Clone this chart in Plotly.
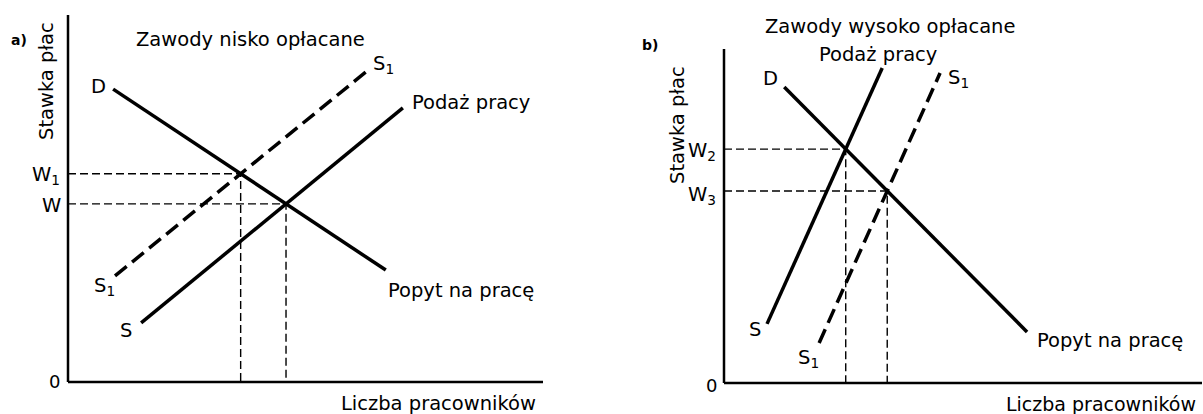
import plotly.graph_objects as go

W_PX, H_PX = 1203, 414

# ---------------- data (axis units 0..100) ----------------
# Panel a) Zawody nisko opłacane
a_D_x = [9.5, 66.9]
a_D_y = [79.8, 30.5]
a_S_x = [15.4, 70.5]
a_S_y = [16.1, 74.7]
a_S1_x = [9.9, 63.2]
a_S1_y = [28.9, 85.0]

# Panel b) Zawody wysoko opłacane
b_D_x = [12.6, 63.4]
b_D_y = [88.6, 15.3]
b_S_x = [9.0, 33.1]
b_S_y = [17.7, 94.3]
b_S1_x = [19.9, 45.2]
b_S1_y = [12.0, 92.8]


def intersect(x1, y1, x2, y2):
    # intersection of the supporting lines of two segments
    m1 = (y1[1] - y1[0]) / (x1[1] - x1[0])
    m2 = (y2[1] - y2[0]) / (x2[1] - x2[0])
    c1 = y1[0] - m1 * x1[0]
    c2 = y2[0] - m2 * x2[0]
    x = (c2 - c1) / (m1 - m2)
    return x, m1 * x + c1


a_E = intersect(a_D_x, a_D_y, a_S_x, a_S_y)
a_E1 = intersect(a_D_x, a_D_y, a_S1_x, a_S1_y)
b_E2 = intersect(b_D_x, b_D_y, b_S_x, b_S_y)
b_E3 = intersect(b_D_x, b_D_y, b_S1_x, b_S1_y)

# ---------------- figure ----------------
fig = go.Figure()

SOLID = dict(color="black", width=3.5)
HEAVY_DASH = dict(color="black", width=3.5, dash="15px,7px")
GUIDE = dict(color="black", width=1.4, dash="8px,4px")


def add_line(x, y, line, xa, ya):
    fig.add_trace(go.Scatter(x=x, y=y, mode="lines", line=line,
                             xaxis=xa, yaxis=ya, hoverinfo="skip",
                             showlegend=False))


def add_guides(pt, xa, ya):
    add_line([0, pt[0], pt[0]], [pt[1], pt[1], 0], GUIDE, xa, ya)


# panel a
add_guides(a_E, "x", "y")
add_guides(a_E1, "x", "y")
add_line(a_D_x, a_D_y, SOLID, "x", "y")
add_line(a_S_x, a_S_y, SOLID, "x", "y")
add_line(a_S1_x, a_S1_y, HEAVY_DASH, "x", "y")

# panel b
add_guides(b_E2, "x2", "y2")
add_guides(b_E3, "x2", "y2")
add_line(b_D_x, b_D_y, SOLID, "x2", "y2")
add_line(b_S_x, b_S_y, SOLID, "x2", "y2")
add_line(b_S1_x, b_S1_y, HEAVY_DASH, "x2", "y2")


def px(xp):
    return xp / W_PX


def py(yp):
    return 1 - yp / H_PX


axis_common = dict(range=[0, 100], showgrid=False, zeroline=False,
                   showticklabels=False, ticks="", showline=False,
                   fixedrange=True)

FONT = "DejaVu Sans, Verdana, sans-serif"
fig.update_layout(
    width=W_PX, height=H_PX,
    margin=dict(l=0, r=0, t=0, b=0),
    paper_bgcolor="white", plot_bgcolor="white",
    font=dict(family=FONT, color="black", size=19.5),
    xaxis=dict(domain=[px(68), px(543)], anchor="y", **axis_common),
    yaxis=dict(domain=[py(382), py(15)], anchor="x", **axis_common),
    xaxis2=dict(domain=[px(724), px(1202)], anchor="y2", **axis_common),
    yaxis2=dict(domain=[py(383), py(49)], anchor="x2", **axis_common),
)

# axis lines as L shapes
for xa, ya in [("x", "y"), ("x2", "y2")]:
    xd = "%s domain" % xa
    yd = "%s domain" % ya
    fig.add_shape(type="line", xref=xd, yref=yd, x0=0, y0=0, x1=0, y1=1,
                  line=dict(color="black", width=2.5))
    fig.add_shape(type="line", xref=xd, yref=yd, x0=0, y0=0, x1=1, y1=0,
                  line=dict(color="black", width=2.5))


def txt(text, x, y, size=19.5, xanchor="center", yanchor="middle", angle=0):
    fig.add_annotation(text=text, x=px(x), y=py(y), xref="paper", yref="paper",
                       showarrow=False, xanchor=xanchor, yanchor=yanchor,
                       textangle=angle, font=dict(size=size, family=FONT,
                                                  color="black"))


S1 = "S<sub>1</sub>"

# panel a texts
txt("<b>a)</b>", 19, 40, size=14)
txt("Zawody nisko opłacane", 250, 40)
txt("Stawka płac", 47, 81, angle=-90)
txt("D", 98, 86)
txt(S1, 383, 64)
txt("Podaż pracy", 471, 102)
txt("W<sub>1</sub>", 62, 175, xanchor="right")
txt("W", 63, 205, xanchor="right")
txt("0", 54, 381, size=18)
txt(S1, 104, 286)
txt("S", 126, 330)
txt("Popyt na pracę", 461, 290)
txt("Liczba pracowników", 438, 403)

# panel b texts
txt("<b>b)</b>", 650, 45, size=14)
txt("Zawody wysoko opłacane", 890, 26)
txt("Podaż pracy", 878, 54)
txt("D", 770, 79)
txt(S1, 958, 79)
txt("Stawka płac", 677, 125, angle=-90)
txt("W<sub>2</sub>", 718, 151, xanchor="right")
txt("W<sub>3</sub>", 718, 195, xanchor="right")
txt("0", 711, 385, size=18)
txt("S", 755, 329)
txt(S1, 808, 358)
txt("Popyt na pracę", 1110, 340)
txt("Liczba pracowników", 1198, 404, size=19, xanchor="right")

fig.write_html("out.html",
               config={"displayModeBar": False, "staticPlot": True},
               post_script="document.body.style.margin='0';"
                           "document.body.style.overflow='hidden';")
